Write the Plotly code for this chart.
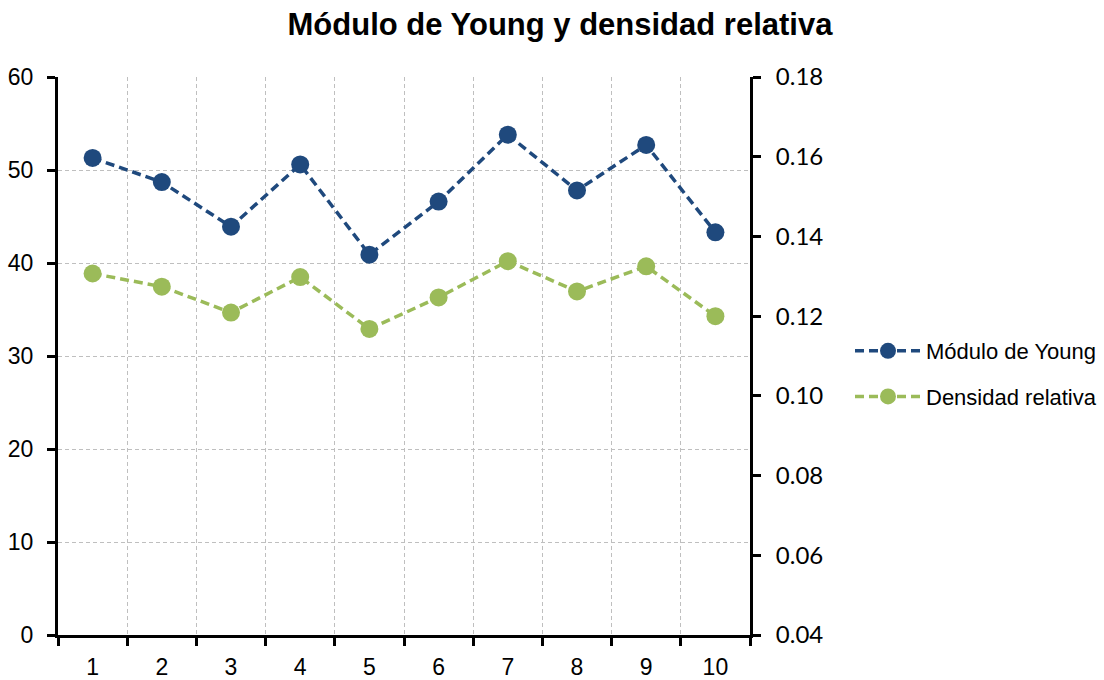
import plotly.graph_objects as go

# Muestras 1-10
muestras = [1, 2, 3, 4, 5, 6, 7, 8, 9, 10]
modulo_young = [51.3, 48.7, 43.9, 50.6, 40.9, 46.6, 53.8, 47.8, 52.7, 43.3]
densidad_relativa = [0.1307, 0.1274, 0.1209, 0.1298, 0.1168, 0.1247, 0.1338, 0.1262, 0.1325, 0.1200]

left_ticks = [0, 10, 20, 30, 40, 50, 60]
right_ticks = [0.04, 0.06, 0.08, 0.10, 0.12, 0.14, 0.16, 0.18]

AZUL = "#1F497D"
VERDE = "#9BBB59"
NARROW = "Liberation Sans Narrow, Arial Narrow, Liberation Sans, sans-serif"

fig = go.Figure()
fig.add_trace(go.Scatter(
    x=muestras, y=modulo_young, name="Módulo de Young",
    mode="lines+markers", legendgroup="young",
    line=dict(color=AZUL, width=3.5, dash="9px,5px"),
    marker=dict(color=AZUL, size=18),
    yaxis="y",
))
fig.add_trace(go.Scatter(
    x=muestras, y=densidad_relativa, name="Densidad relativa",
    mode="lines+markers", legendgroup="densidad",
    line=dict(color=VERDE, width=3.5, dash="9px,5px"),
    marker=dict(color=VERDE, size=18),
    yaxis="y2",
))

bounds = [m - 0.5 for m in muestras] + [muestras[-1] + 0.5]

fig.update_layout(
    width=1104, height=680,
    margin=dict(l=58, r=354, t=77, b=45, autoexpand=False),
    paper_bgcolor="white", plot_bgcolor="white",
    title=dict(text="<b>Módulo de Young y densidad relativa</b>",
               font=dict(family=NARROW, size=31, color="black"),
               x=560 / 1104, xanchor="center", y=1 - 24 / 680, yanchor="middle"),
    xaxis=dict(
        range=[0.5, 10.5], tickvals=muestras, ticktext=[str(m) for m in muestras],
        ticks="", showgrid=False, zeroline=False, automargin=False,
        showline=True, linecolor="black", linewidth=3,
        ticklabelstandoff=9,
        tickfont=dict(family=NARROW, size=23, color="black"),
        minor=dict(tickvals=bounds, ticks="outside", ticklen=8, tickwidth=3,
                   tickcolor="black", showgrid=True, gridcolor="#BFBFBF",
                   griddash="4px,3px", gridwidth=1),
    ),
    yaxis=dict(
        range=[0, 60], tickvals=left_ticks, ticks="outside", ticklen=8,
        tickwidth=3, tickcolor="black", automargin=False,
        showline=True, linecolor="black", linewidth=3, zeroline=False,
        showgrid=True, gridcolor="#BFBFBF", griddash="4px,3px", gridwidth=1,
        ticklabelstandoff=9,
        tickfont=dict(family=NARROW, size=23, color="black"),
    ),
    yaxis2=dict(
        range=[0.04, 0.18], tickvals=right_ticks, tickformat=".2f",
        overlaying="y", side="right", automargin=False,
        ticks="outside", ticklen=8, tickwidth=3, tickcolor="black",
        showline=True, linecolor="black", linewidth=3, zeroline=False,
        showgrid=False, ticklabelstandoff=10,
        tickfont=dict(family="Lato, Carlito, sans-serif", size=24, color="black"),
    ),
    legend=dict(x=(850 - 58) / 692, xanchor="left", y=(635 - 374) / 558,
                yanchor="middle", font=dict(family=NARROW, size=22, color="black"),
                itemwidth=66, tracegroupgap=14, bgcolor="rgba(0,0,0,0)"),
    showlegend=True,
)

fig.write_html("out.html")
